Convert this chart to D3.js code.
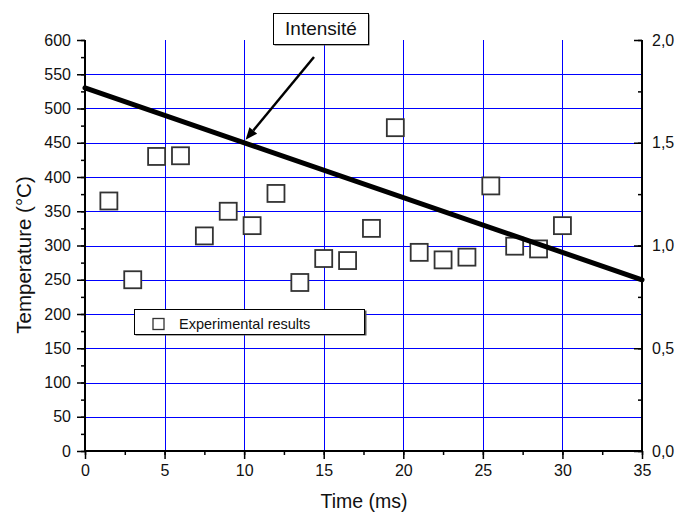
<!DOCTYPE html>
<html>
<head>
<meta charset="utf-8">
<script src="https://cdn.jsdelivr.net/npm/d3@7"></script>
<style>
  html, body { margin: 0; padding: 0; background: #fff; }
  svg { display: block; font-family: "Liberation Sans", Arial, sans-serif; }
</style>
</head>
<body>
<svg id="chart" width="675" height="512"></svg>
<script>
// ---- data ----
const timeValues = [1.5, 3, 4.5, 6, 7.5, 9, 10.5, 12, 13.5, 15, 16.5, 18, 19.5, 21, 22.5, 24, 25.5, 27, 28.5, 30];
const tempValues = [365, 250, 430, 431, 314, 350, 329, 376, 246, 281, 278, 325, 472, 290, 279, 283, 387, 299, 295, 329];
const lineTime = [0, 35];
const intensityValues = [1.767, 0.833];
const xTicks = [0, 5, 10, 15, 20, 25, 30, 35];
const yTicks = [0, 50, 100, 150, 200, 250, 300, 350, 400, 450, 500, 550, 600];
const yRightTicks = [0, 0.5, 1.0, 1.5, 2.0];
const xLabel = "Time (ms)";
const yLabel = "Temperature (°C)";
const legendLabel = "Experimental results";
const annotationLabel = "Intensité";

// ---- layout ----
const svg = d3.select("#chart");
const L = 85, R = 642, T = 40, B = 451;
const x = d3.scaleLinear().domain([0, 35]).range([L, R]);
const y = d3.scaleLinear().domain([0, 600]).range([B, T]);
const yR = d3.scaleLinear().domain([0, 2]).range([B, T]);
const blue = "#0000ff";

// grid
const grid = svg.append("g");
grid.selectAll("line.h").data(yTicks.filter(v => v > 0 && v < 600)).join("line")
  .attr("x1", L).attr("x2", R).attr("y1", d => Math.round(y(d)) + 0.5).attr("y2", d => Math.round(y(d)) + 0.5)
  .attr("stroke", blue).attr("stroke-width", 1);
grid.selectAll("line.v").data(xTicks.filter(v => v > 0 && v < 35)).join("line")
  .attr("y1", T).attr("y2", B).attr("x1", d => Math.round(x(d)) + 0.5).attr("x2", d => Math.round(x(d)) + 0.5)
  .attr("stroke", blue).attr("stroke-width", 1);

// axes
const fs = "16px";
const minorX = d3.range(0, 35.01, 2.5);
const minorY = d3.range(0, 600.01, 25);
const minorYR = d3.range(0, 2.001, 0.25);

const gx = svg.append("g").attr("transform", `translate(0,${B})`)
  .call(d3.axisBottom(x).tickValues(minorX).tickSize(4).tickFormat(""));
const gx2 = svg.append("g").attr("transform", `translate(0,${B})`)
  .call(d3.axisBottom(x).tickValues(xTicks).tickSize(8).tickPadding(6).tickFormat(d3.format("d")));
const gy = svg.append("g").attr("transform", `translate(${L},0)`)
  .call(d3.axisLeft(y).tickValues(minorY).tickSize(4).tickFormat(""));
const gy2 = svg.append("g").attr("transform", `translate(${L},0)`)
  .call(d3.axisLeft(y).tickValues(yTicks).tickSize(8).tickPadding(6).tickFormat(d3.format("d")));
const fmtR = v => d3.format(".1f")(v).replace(".", ",");
const gr = svg.append("g").attr("transform", `translate(${R},0)`)
  .call(d3.axisRight(yR).tickValues(minorYR).tickSizeInner(-4).tickSizeOuter(0).tickFormat(""));
const gr2 = svg.append("g").attr("transform", `translate(${R},0)`)
  .call(d3.axisRight(yR).tickValues(yRightTicks).tickSizeInner(-8).tickSizeOuter(0).tickPadding(10).tickFormat(fmtR));

[gx, gx2, gy, gy2, gr, gr2].forEach(g => {
  g.select(".domain").attr("stroke", "#000").attr("stroke-width", 2);
  g.selectAll(".tick line").attr("stroke", "#000").attr("stroke-width", 1.5);
  g.selectAll(".tick text").attr("fill", "#111").style("font-size", fs)
    .style("font-family", '"Liberation Sans", Arial, sans-serif');
});
[gx, gx2].forEach(g => g.select(".domain").attr("d", `M${L},0H${R}`));
[gy, gy2, gr, gr2].forEach(g => g.select(".domain").attr("d", `M0,${B}V${T}`));
gr2.selectAll(".tick text").attr("x", 10);

// axis titles
svg.append("text").attr("x", 364).attr("y", 508).attr("text-anchor", "middle")
  .style("font-size", "19.5px").attr("fill", "#111").text(xLabel);
svg.append("text").attr("transform", "translate(31,255) rotate(-90)").attr("text-anchor", "middle")
  .style("font-size", "20.5px").attr("fill", "#111").text(yLabel);

// scatter squares
const sq = 17;
svg.append("g").selectAll("rect").data(timeValues.map((t, i) => [t, tempValues[i]])).join("rect")
  .attr("x", d => x(d[0]) - sq / 2).attr("y", d => y(d[1]) - sq / 2)
  .attr("width", sq).attr("height", sq)
  .attr("fill", "#fff").attr("stroke", "#333").attr("stroke-width", 1.8);

// intensity line
const lineData = lineTime.map((t, i) => [t, intensityValues[i]]);
svg.append("path").datum(lineData)
  .attr("d", d3.line().x(d => x(d[0])).y(d => yR(d[1])))
  .attr("stroke", "#000").attr("stroke-width", 5).attr("fill", "none").attr("stroke-linecap", "round");

// legend
const lg = svg.append("g");
lg.append("rect").attr("x", 135.5).attr("y", 310.5).attr("width", 231).attr("height", 25)
  .attr("fill", "#555");
lg.append("rect").attr("x", 134.5).attr("y", 309.5).attr("width", 230).attr("height", 25)
  .attr("fill", "#fff").attr("stroke", "#000").attr("stroke-width", 1);
lg.append("rect").attr("x", 153).attr("y", 318.5).attr("width", 11).attr("height", 11)
  .attr("fill", "#fff").attr("stroke", "#333").attr("stroke-width", 1.3);
lg.append("text").attr("x", 179).attr("y", 329).style("font-size", "14.5px").attr("fill", "#111").text(legendLabel);

// annotation
const an = svg.append("g");
an.append("rect").attr("x", 274.5).attr("y", 14.5).attr("width", 95).attr("height", 31).attr("fill", "#555");
an.append("rect").attr("x", 273.5).attr("y", 13.5).attr("width", 95).attr("height", 31)
  .attr("fill", "#fff").attr("stroke", "#000").attr("stroke-width", 1);
an.append("text").attr("x", 321).attr("y", 35).attr("text-anchor", "middle")
  .style("font-size", "19px").attr("fill", "#111").text(annotationLabel);

// arrow pointing to the line at t = 10
const tipX = x(10) + 1.5, tipY = yR(d3.interpolate(intensityValues[0], intensityValues[1])(10 / 35)) - 3;
const startX = 314, startY = 57;
const ang = Math.atan2(tipY - startY, tipX - startX);
const ah = 12, aw = 5;
const baseX = tipX - ah * Math.cos(ang), baseY = tipY - ah * Math.sin(ang);
svg.append("line").attr("x1", startX).attr("y1", startY).attr("x2", baseX).attr("y2", baseY)
  .attr("stroke", "#000").attr("stroke-width", 2.5);
svg.append("path")
  .attr("d", `M${tipX},${tipY}L${baseX + aw * Math.sin(ang)},${baseY - aw * Math.cos(ang)}L${baseX - aw * Math.sin(ang)},${baseY + aw * Math.cos(ang)}Z`)
  .attr("fill", "#000");
</script>
</body>
</html>
